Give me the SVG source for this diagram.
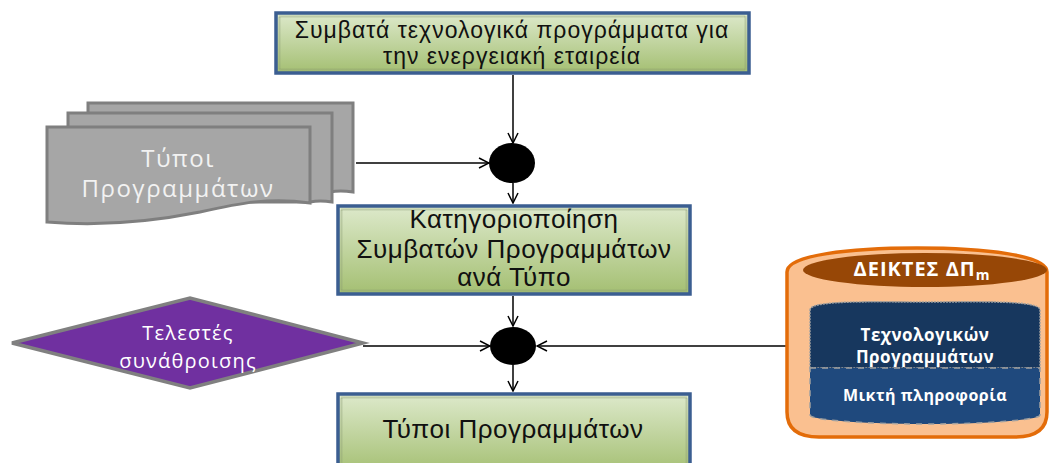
<svg xmlns="http://www.w3.org/2000/svg" width="1050" height="463" viewBox="0 0 1050 463">
  <defs>
    <linearGradient id="greenFill" x1="0" y1="0" x2="0" y2="1">
      <stop offset="0" stop-color="#dde9cb"/>
      <stop offset="1" stop-color="#a4bf72"/>
    </linearGradient>
    <marker id="arrow" markerWidth="12" markerHeight="12" refX="11" refY="6" orient="auto" markerUnits="userSpaceOnUse">
      <path d="M1,1 L11,6 L1,11" fill="none" stroke="#000" stroke-width="1.5"/>
    </marker>
  </defs>
  <style>
    .box { fill: url(#greenFill); stroke: #3b5e91; stroke-width: 3.5; }
    .grain { fill: none; stroke: #8a9a70; stroke-width: 2; stroke-dasharray: 1 1; opacity: 0.7; }
    .boxText { font-family: "Liberation Sans", Arial, sans-serif; fill: #111; text-anchor: middle; }
    .page { fill: #a6a6a6; stroke: #7f7f7f; stroke-width: 3; }
    .pageText { font-family: "Open Sans", "Liberation Sans", sans-serif; fill: #f2f2f2; text-anchor: middle; font-size: 24px; letter-spacing: 1.5px; }
    .whiteText { font-family: "Open Sans", "Liberation Sans", sans-serif; fill: #ffffff; text-anchor: middle; }
    .boldText { font-family: "Open Sans", "Liberation Sans", sans-serif; fill: #ffffff; text-anchor: middle; font-weight: bold; }
    .conn { stroke: #000; stroke-width: 1.5; fill: none; marker-end: url(#arrow); }
    .join { fill: #000; }
  </style>

  <!-- connectors -->
  <g id="connectors">
    <line class="conn" x1="513" y1="75" x2="513" y2="143"/>
    <line class="conn" x1="356" y1="163" x2="489" y2="163"/>
    <line class="conn" x1="513" y1="183" x2="513" y2="203"/>
    <line class="conn" x1="513" y1="296" x2="513" y2="326"/>
    <line class="conn" x1="363" y1="346" x2="490" y2="346"/>
    <line class="conn" x1="787" y1="346" x2="537" y2="346"/>
    <line class="conn" x1="513" y1="365" x2="513" y2="391"/>
  </g>

  <!-- junction points -->
  <g id="join1"><ellipse class="join" cx="512" cy="163" rx="23" ry="20"/></g>
  <g id="join2"><ellipse class="join" cx="513" cy="346" rx="23" ry="19"/></g>

  <!-- compatible programmes box -->
  <g id="compatible">
    <rect class="box" x="276" y="13" width="473" height="60"/>
    <rect class="grain" x="279.5" y="16.5" width="466" height="53"/>
    <text class="boxText" font-size="23" letter-spacing="1" x="512" y="38">Συμβατά τεχνολογικά προγράμματα για</text>
    <text class="boxText" font-size="23" letter-spacing="1" x="512" y="64">την ενεργειακή εταιρεία</text>
  </g>

  <!-- programme types document stack -->
  <g id="types">
    <path class="page" d="M88,103 H353 V192 C340,190 335,191 330,192 L88,192 Z"/>
    <path class="page" d="M68,113 H332 V202 C320,200 315,201 310,202 L68,202 Z"/>
    <path class="page" d="M47,127 H310 V203 C270,197 240,203 200,212 C150,222 95,226 47,222 Z"/>
    <text class="pageText" x="178" y="167">Τύποι</text>
    <text class="pageText" x="178" y="197">Προγραμμάτων</text>
  </g>

  <!-- categorisation box -->
  <g id="categorise">
    <rect class="box" x="338" y="206" width="352" height="88"/>
    <rect class="grain" x="341.5" y="209.5" width="345" height="81"/>
    <text class="boxText" font-size="26" letter-spacing="0.5" x="514" y="228">Κατηγοριοποίηση</text>
    <text class="boxText" font-size="26" letter-spacing="0.5" x="514" y="258">Συμβατών Προγραμμάτων</text>
    <text class="boxText" font-size="26" letter-spacing="0.5" x="514" y="286">ανά Τύπο</text>
  </g>

  <!-- aggregation operators -->
  <g id="operators">
    <polygon points="12,343 190,298 363,343 190,388" fill="#7030a0" stroke="#808080" stroke-width="3.5"/>
    <text class="whiteText" font-size="20" letter-spacing="1.2" x="188" y="340">Τελεστές</text>
    <text class="whiteText" font-size="20" letter-spacing="1.2" x="188" y="368">συνάθροισης</text>
  </g>

  <!-- result box -->
  <g id="result">
    <rect class="box" x="338" y="394" width="352" height="80"/>
    <rect class="grain" x="341.5" y="397.5" width="345" height="73"/>
    <text class="boxText" font-size="26" letter-spacing="0.5" x="513" y="438">Τύποι Προγραμμάτων</text>
  </g>

  <!-- indicators store -->
  <g id="indicators">
    <path d="M787,272 C787,255 850,248 917,248 C984,248 1047,255 1047,272 L1047,412 C1047,430 1035,437 1015,437 L819,437 C799,437 787,430 787,412 Z" fill="#fac090" stroke="#e36c09" stroke-width="3.5"/>
    <ellipse cx="925" cy="270" rx="122" ry="17" fill="#974706"/>
    <text class="boldText" font-size="20" letter-spacing="1" x="922" y="276">ΔΕΙΚΤΕΣ ΔΠ<tspan font-size="14" dy="4">m</tspan></text>
    <path d="M810,310 C810,300 870,302 925,302 C980,302 1040,300 1040,310 L1040,368 L810,368 Z" fill="#17375e" stroke="#a0a0a0" stroke-width="1.5" stroke-dasharray="2 1"/>
    <path d="M810,368 L1040,368 L1040,415 C1040,420 985,424 925,424 C865,424 810,420 810,415 Z" fill="#1f497d" stroke="#a0a0a0" stroke-width="1.5" stroke-dasharray="6 6"/>
    <text class="boldText" font-size="17" letter-spacing="0.5" x="925" y="341">Τεχνολογικών</text>
    <text class="boldText" font-size="17" letter-spacing="0.5" x="925" y="363">Προγραμμάτων</text>
    <text class="boldText" font-size="16" letter-spacing="0.5" x="925" y="401">Μικτή πληροφορία</text>
  </g>
</svg>
